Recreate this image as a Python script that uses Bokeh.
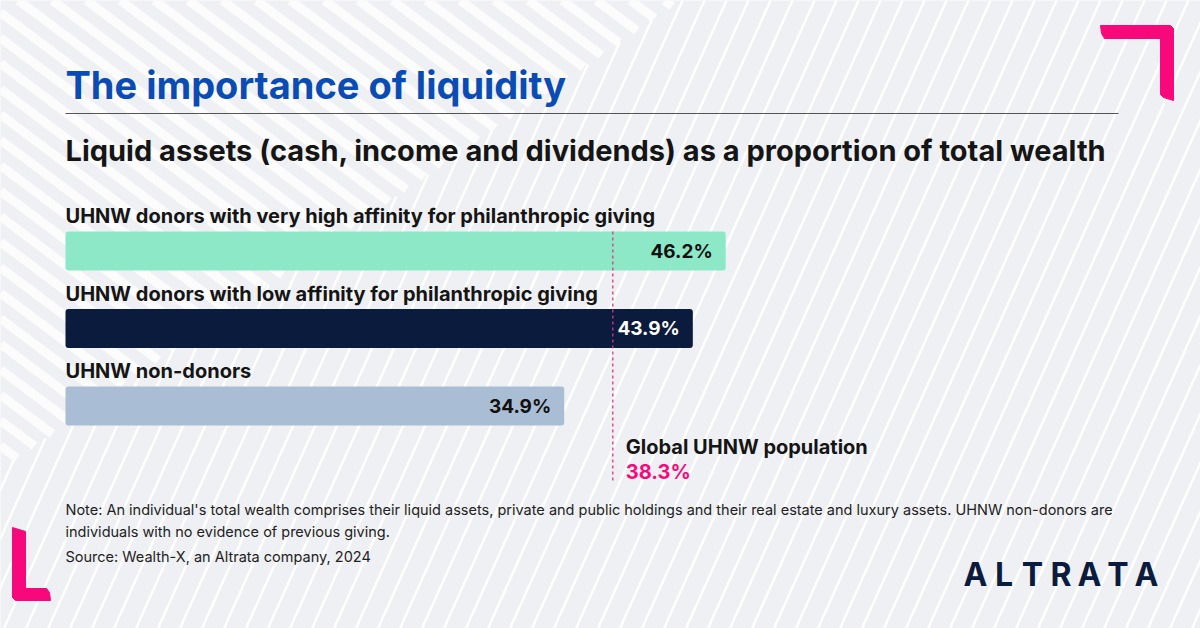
import numpy as np
from bokeh.plotting import figure
from bokeh.models import Range1d, ColumnDataSource
from bokeh.core.properties import value
from bokeh.embed import file_html
from bokeh.resources import INLINE

# ---------------- data ----------------
categories = [
    "UHNW donors with very high affinity for philanthropic giving",
    "UHNW donors with low affinity for philanthropic giving",
    "UHNW non-donors",
]
values = [46.2, 43.9, 34.9]
value_labels = ["46.2%", "43.9%", "34.9%"]
bar_colors = ["#8de8c8", "#0b1b3d", "#a9bdd4"]
value_label_colors = ["#111111", "#ffffff", "#111111"]
benchmark_name = "Global UHNW population"
benchmark_value = 38.3
benchmark_label = "38.3%"

title = "The importance of liquidity"
subtitle = "Liquid assets (cash, income and dividends) as a proportion of total wealth"
note_lines = [
    "Note: An individual's total wealth comprises their liquid assets, private and public holdings and their real estate and luxury assets. UHNW non-donors are",
    "individuals with no evidence of previous giving.",
]
source = "Source: Wealth-X, an Altrata company, 2024"
logo = "ALTRATA"

# ---------------- layout ----------------
W, H = 1200, 628
BAR_X0 = 65                  # pixel where value 0 sits
PX_PER_UNIT = 14.29          # pixels per percentage point
FONT = value("Inter")
PINK = "#f7097b"
NAVY = "#0b1b3d"

x_start = -BAR_X0 / PX_PER_UNIT
x_end = (W - BAR_X0) / PX_PER_UNIT

p = figure(width=W, height=H, output_backend="svg", toolbar_location=None,
           x_range=Range1d(x_start, x_end), y_range=Range1d(H, 0),
           min_border=0, background_fill_color="#eff0f3",
           border_fill_color="#eff0f3")
p.extra_x_ranges["px"] = Range1d(0, W)
p.axis.visible = False
p.grid.visible = False
p.outline_line_color = None

# ---------------- decorative background stripes ----------------
BOUND = 680.0   # boundary x + 1.45*y = BOUND separates the two stripe fields
xs0, ys0, xs1, ys1 = [], [], [], []
k = 1 / 0.75
for c in np.arange(-900, 700, 34):
    sx, sy = (c, 0.0) if c >= 0 else (0.0, -c / k)
    ey = (BOUND - c) / (k + 1.45)
    ex = c + ey * k
    if ey > sy:
        xs0.append(sx); ys0.append(sy); xs1.append(ex); ys1.append(ey)
p.segment(x0=xs0, y0=ys0, x1=xs1, y1=ys1, x_range_name="px",
          line_color="white", line_width=9, line_alpha=0.8)

xa0, ya0, xa1, ya1 = [], [], [], []
for c in np.arange(0, 1500, 22):
    sy = max(0.0, BOUND - c)
    ey = 640.0
    if ey > sy:
        xa0.append(c - 0.45 * sy); ya0.append(sy)
        xa1.append(c - 0.45 * ey); ya1.append(ey)
p.segment(x0=xa0, y0=ya0, x1=xa1, y1=ya1, x_range_name="px",
          line_color="white", line_width=2.5, line_alpha=0.95)

# ---------------- pink corner marks ----------------
p.patch(x=[1100, 1170, 1173, 1173, 1163, 1160, 1160, 1104, 1101],
        y=[25, 25, 28, 100, 97, 94, 38, 38, 33],
        x_range_name="px", fill_color=PINK, line_color=PINK)
p.patch(x=[12, 25, 25, 46, 49, 50, 15, 12],
        y=[527, 531, 588, 588, 592, 600, 600, 597],
        x_range_name="px", fill_color=PINK, line_color=PINK)

# ---------------- titles ----------------
p.text(x=[65], y=[84], text=[title], x_range_name="px", text_font=FONT,
       text_font_size="38px", text_font_style="bold", text_color="#0a4cb4",
       text_baseline="middle")
p.segment(x0=[65], x1=[1118], y0=[113], y1=[113], x_range_name="px",
          line_color="#555555", line_width=1)
p.text(x=[65], y=[150], text=[subtitle], x_range_name="px", text_font=FONT,
       text_font_size="29px", text_font_style="bold", text_color="#151515",
       text_baseline="middle")

# ---------------- bars ----------------
ROW0, ROW_STEP, BAR_H = 250.5, 77.5, 39
ys = [ROW0 + i * ROW_STEP for i in range(len(values))]
src = ColumnDataSource(dict(y=ys, v=values, c=bar_colors, lab=value_labels,
                            lc=value_label_colors, cat=categories,
                            ly=[y - 35 for y in ys], x0=[BAR_X0] * len(ys)))
p.hbar(y="y", left=0, right="v", height=BAR_H, fill_color="c", line_color=None,
       border_radius=3, source=src)
p.text(x="v", y="y", text="lab", x_offset=-13, text_align="right",
       text_baseline="middle", text_color="lc", text_font=FONT,
       text_font_size="19px", text_font_style="bold", source=src)
p.text(x="x0", y="ly", text="cat", x_range_name="px", text_align="left",
       text_baseline="middle", text_color="#151515", text_font=FONT,
       text_font_size="20px", text_font_style="bold", source=src)

# ---------------- benchmark ----------------
p.segment(x0=[benchmark_value], x1=[benchmark_value], y0=[231], y1=[482],
          line_color="#e0357f", line_width=1.3, line_dash="3 3")
p.text(x=[benchmark_value], y=[446], text=[benchmark_name], x_offset=13,
       text_font=FONT, text_font_size="20px", text_font_style="bold",
       text_color="#151515", text_baseline="middle")
p.text(x=[benchmark_value], y=[471], text=[benchmark_label], x_offset=13,
       text_font=FONT, text_font_size="20px", text_font_style="bold",
       text_color=PINK, text_baseline="middle")

# ---------------- notes ----------------
p.text(x=[65, 65], y=[509, 531], text=note_lines, x_range_name="px",
       text_font=FONT, text_font_size="14.5px", text_color="#222222",
       text_baseline="middle")
p.text(x=[65], y=[556], text=[source], x_range_name="px",
       text_font=FONT, text_font_size="14.5px", text_color="#222222",
       text_baseline="middle")

# ---------------- logo ----------------
letters = list(logo)
lx = [975 + i * 28.5 for i in range(len(letters))]
p.text(x=lx, y=[574] * len(letters), text=letters, x_range_name="px",
       text_font=FONT, text_font_size="32px", text_font_style="bold",
       text_color=NAVY, text_align="center", text_baseline="middle")

open("out.html", "w").write(file_html(p, INLINE))
